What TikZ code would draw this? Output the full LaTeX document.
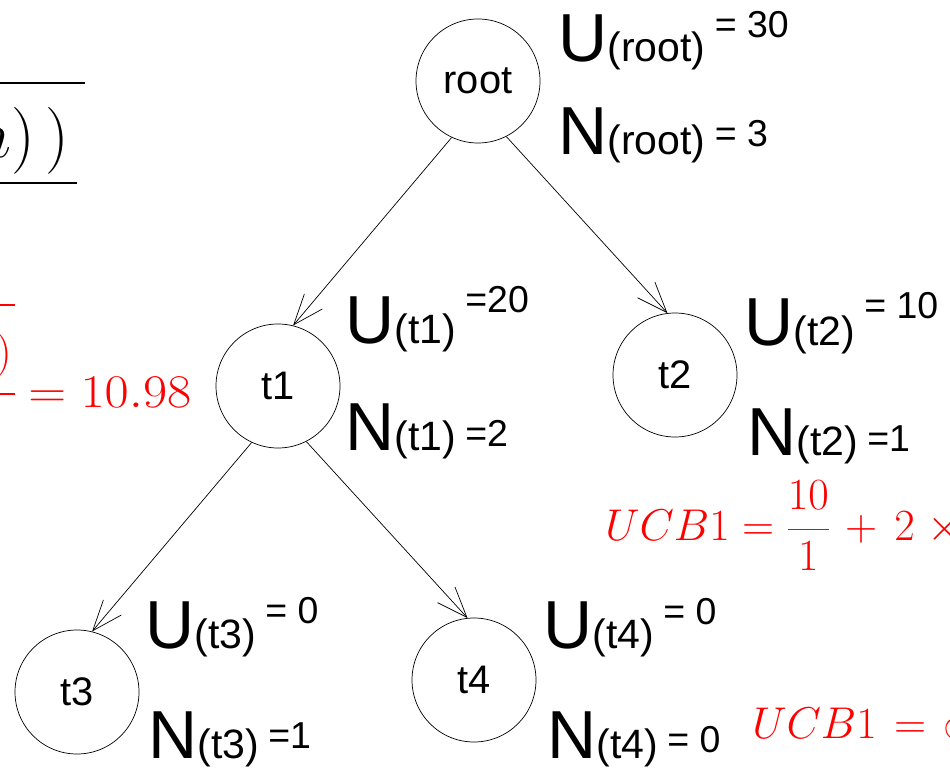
\RequirePackage{fix-cm}
\documentclass[tikz,border=0pt]{standalone}
\usepackage{fontspec}
\setmainfont{Liberation Sans}
\usetikzlibrary{arrows.meta}

% big letter, subscript, raised value
\newcommand{\stat}[4]{{\fontsize{58}{58}\selectfont #1}{\fontsize{35}{35}\selectfont #2}\hspace{8pt}\raisebox{#4}{\fontsize{32}{32}\selectfont #3}}

\begin{document}
\begin{tikzpicture}[>={Straight Barb[length=26pt,width=20pt]},line width=0.6pt]
\tikzstyle{n}=[draw,circle,minimum size=3.72cm,inner sep=0pt,font=\fontsize{34}{34}\selectfont]
\tikzstyle{lab}=[anchor=base west,inner sep=0pt]
\tikzstyle{ucb}=[anchor=base west,inner sep=0pt,text=red,font=\fontsize{38}{38}\selectfont]
\useasboundingbox (0,0) rectangle (28.5,23.28);
\clip (0,0) rectangle (28.5,23.28);
% tree
\node[n] (root) at (14.34,20.85) {root};
\node[n] (t1) at (8.34,11.70) {t1};
\node[n] (t2) at (20.25,12.03) {t2};
\node[n] (t3) at (2.31,2.52) {t3};
\node[n] (t4) at (14.22,2.88) {t4};
\draw[->] (root.245) -- (t1.76); \draw[->] (root.297) -- (t2.97);
\draw[->] (t1.245) -- (t3.76); \draw[->] (t1.297) -- (t4.96);
% utility and visit counts
\node[lab] (uroot) at (16.74,21.42) {\stat{U}{(root)}{= 30}{21pt}};
\node[lab] (nroot) at (16.74,18.63) {\stat{N}{(root)}{= 3}{7pt}};
\node[lab] (ut1) at (10.35,12.99) {\stat{U}{(t1)}{=20}{26pt}};
\node[lab] (nt1) at (10.35,9.78) {\stat{N}{(t1)}{=2}{3pt}};
\node[lab] (ut2) at (22.32,12.93) {\stat{U}{(t2)}{= 10}{23pt}};
\node[lab] (nt2) at (22.41,9.63) {\stat{N}{(t2)}{=1}{3pt}};
\node[lab] (ut3) at (4.35,3.84) {\stat{U}{(t3)}{= 0}{21pt}};
\node[lab] (nt3) at (4.44,0.54) {\stat{N}{(t3)}{=1}{8pt}};
\node[lab] (ut4) at (16.29,3.84) {\stat{U}{(t4)}{= 0}{20pt}};
\node[lab] (nt4) at (16.41,0.54) {\stat{N}{(t4)}{= 0}{5pt}};
% formula pieces
\draw[line width=2.5pt] (0,20.79) -- (2.55,20.79);
\draw[line width=2.5pt] (0,17.79) -- (2.31,17.79);
\node[anchor=base east,inner sep=0pt,font=\fontsize{57}{57}\selectfont] (frag) at (2.1,18.54) {$n)\,)$};
\draw[red,line width=2.5pt] (0,14.13) -- (0.45,14.13);
\draw[red,line width=2.5pt] (0,11.46) -- (0.45,11.46);
\node[ucb,anchor=base east] (par) at (0.36,12.3) {$)$};
\node[ucb,font=\fontsize{40}{40}\selectfont,xscale=1.12,transform shape] (ucbt1) at (0.84,11.07) {$= 10.98$};
\node[ucb] (ucbt2) at (18.15,7.08) {$\displaystyle UCB1=\frac{10}{1}\mkern2mu+\mkern3mu2\mkern5mu\times$};
\node[ucb] (ucbt4) at (22.56,1.14) {$UCB1\mkern2mu=\mkern2mu\infty$};
\end{tikzpicture}
\end{document}
